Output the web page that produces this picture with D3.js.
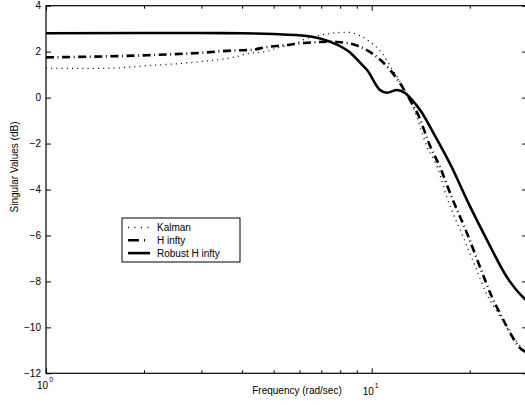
<!DOCTYPE html>
<html>
  <head>
    <meta http-equiv="Content-type" content="text/html; charset=utf-8">
    <title>Singular Values</title>
    <script src="https://d3js.org/d3.v7.min.js"></script>
    <style>
      body { margin: 0; background: #fff; }
      svg { display: block; }
      text { font-family: "Liberation Sans", Arial, Helvetica, sans-serif; font-size: 10px; fill: #000; }
    </style>
  </head>
  <body>
    <div id="chart"></div>
    <script type="text/javascript">
      // values (rad/sec, dB)
      var kalmanFreq = [1, 1.5, 2, 3, 3.75, 4.23, 4.77, 5.23, 5.8, 6.02, 6.94, 8.4, 8.7, 9.68, 10.75, 11.6, 12.65, 13.4, 14.8, 15.9, 17.0, 19.1, 21.0, 22.6, 24.4, 27.9, 30];
      var kalmanDb   = [1.27, 1.27, 1.38, 1.57, 1.75, 1.93, 2.02, 2.2, 2.33, 2.45, 2.72, 2.84, 2.82, 2.51, 1.94, 1.2, 0.33, -0.41, -2.15, -3.02, -4.33, -6.07, -7.5, -8.59, -9.37, -10.63, -11.15];

      var hinfFreq = [1, 2, 3, 3.75, 4.23, 4.77, 5.5, 6.02, 6.33, 7.61, 8.0, 9.08, 10.2, 11.4, 12.2, 13.1, 13.9, 15.1, 16.2, 17.6, 19.6, 21.5, 23.4, 25.1, 26.6, 28.5, 30];
      var hinfDb   = [1.75, 1.84, 1.95, 2.05, 2.07, 2.2, 2.29, 2.36, 2.39, 2.43, 2.41, 2.25, 1.85, 1.2, 0.64, -0.1, -0.76, -2.1, -3.02, -4.33, -5.89, -7.37, -8.68, -9.55, -10.24, -10.89, -11.1];

      var robustFreq = [1, 2, 3, 4, 5, 6.33, 7.45, 8.58, 9.21, 9.68, 10.6, 11.14, 11.96, 12.65, 13.3, 14.2, 15.4, 17.6, 19.6, 22.6, 26.0, 29.1, 30];
      var robustDb   = [2.8, 2.81, 2.81, 2.8, 2.77, 2.68, 2.43, 1.96, 1.52, 1.2, 0.33, 0.21, 0.33, 0.2, -0.1, -0.62, -1.49, -3.02, -4.45, -6.2, -7.81, -8.68, -8.85];

      var yTicks = [-12, -10, -8, -6, -4, -2, 0, 2, 4];
      var xMajor = [1, 10];
      var xMajorExp = ['0', '1'];
      var xMinor = [2, 3, 4, 5, 6, 7, 8, 9, 20, 30];
      var legendLabels = ['Kalman', 'H infty', 'Robust H infty'];

      (function(d3) {
        'use strict';

        var width = 525, height = 405;
        var plotLeft = 46, plotTop = 5.7, plotBottom = 373.3;
        var decade = 325.7;

        var x = d3.scaleLog().domain([1, 30]).range([plotLeft, plotLeft + decade * Math.log10(30)]);
        var y = d3.scaleLinear().domain([-12, 4]).range([plotBottom, plotTop]);
        var plotRight = x(30);

        var svg = d3.select('#chart').append('svg')
          .attr('width', width)
          .attr('height', height);

        function zip(f, v) {
          return f.map(function(d, i) { return [d, v[i]]; });
        }

        var series = [
          { name: legendLabels[0], data: zip(kalmanFreq, kalmanDb), width: 1.3, dash: '1,4.2', legDash: '1,5.5' },
          { name: legendLabels[1], data: zip(hinfFreq, hinfDb), width: 2.6, dash: '8,3.6,0.9,3.6', legDash: '11,5,1,5' },
          { name: legendLabels[2], data: zip(robustFreq, robustDb), width: 2.6, dash: null, legDash: null }
        ];

        var line = d3.line()
          .x(function(d) { return x(d[0]); })
          .y(function(d) { return y(d[1]); })
          .curve(d3.curveMonotoneX);

        svg.append('g').selectAll('path')
          .data(series)
          .enter()
          .append('path')
          .attr('d', function(d) { return line(d.data); })
          .attr('fill', 'none')
          .attr('stroke', '#000')
          .attr('stroke-width', function(d) { return d.width; })
          .attr('stroke-dasharray', function(d) { return d.dash; });

        // axes: ticks point inward on all four sides
        var yl = svg.append('g').attr('transform', 'translate(' + plotLeft + ',0)')
          .call(d3.axisLeft(y).tickValues(yTicks).tickSizeInner(-5).tickSizeOuter(0).tickPadding(5).tickFormat(d3.format('d')));
        var yr = svg.append('g').attr('transform', 'translate(' + plotRight + ',0)')
          .call(d3.axisRight(y).tickValues(yTicks).tickSizeInner(-5).tickSizeOuter(0).tickFormat(''));
        var xb1 = svg.append('g').attr('transform', 'translate(0,' + plotBottom + ')')
          .call(d3.axisBottom(x).tickValues(xMajor).tickSizeInner(-5).tickSizeOuter(0).tickFormat(''));
        var xb2 = svg.append('g').attr('transform', 'translate(0,' + plotBottom + ')')
          .call(d3.axisBottom(x).tickValues(xMinor).tickSizeInner(-3).tickSizeOuter(0).tickFormat(''));
        var xt1 = svg.append('g').attr('transform', 'translate(0,' + plotTop + ')')
          .call(d3.axisTop(x).tickValues(xMajor).tickSizeInner(-5).tickSizeOuter(0).tickFormat(''));
        var xt2 = svg.append('g').attr('transform', 'translate(0,' + plotTop + ')')
          .call(d3.axisTop(x).tickValues(xMinor).tickSizeInner(-3).tickSizeOuter(0).tickFormat(''));

        [yl, yr, xb1, xb2, xt1, xt2].forEach(function(g) {
          g.select('.domain').remove();
          g.selectAll('line').attr('stroke', '#000');
          g.selectAll('text').attr('fill', '#000').attr('font-size', null).attr('font-family', null);
        });

        svg.append('rect')
          .attr('x', plotLeft).attr('y', plotTop)
          .attr('width', plotRight - plotLeft).attr('height', plotBottom - plotTop)
          .attr('fill', 'none').attr('stroke', '#000').attr('stroke-width', 1.2);

        // decade labels with superscript exponent
        var labY = [389, 395];
        xMajor.forEach(function(v, i) {
          var t = svg.append('text')
            .attr('x', x(v) - 9)
            .attr('y', labY[i]);
          t.append('tspan').text('10');
          t.append('tspan')
            .attr('dx', 1).attr('dy', -7)
            .style('font-size', '7px')
            .text(xMajorExp[i]);
        });

        svg.append('text')
          .attr('x', 297).attr('y', 394)
          .attr('text-anchor', 'middle')
          .text('Frequency (rad/sec)');

        svg.append('text')
          .attr('transform', 'translate(18,167) rotate(-90)')
          .attr('text-anchor', 'middle')
          .text('Singular Values (dB)');

        // legend
        var lg = svg.append('g').attr('transform', 'translate(122,218)');
        lg.append('rect')
          .attr('width', 118).attr('height', 44)
          .attr('fill', '#fff').attr('stroke', '#000').attr('stroke-width', 1);
        var row = lg.selectAll('g.row')
          .data(series)
          .enter()
          .append('g')
          .attr('class', 'row')
          .attr('transform', function(d, i) { return 'translate(0,' + (9.5 + i * 12.8) + ')'; });
        row.append('line')
          .attr('x1', 6).attr('x2', 28)
          .attr('stroke', '#000')
          .attr('stroke-width', function(d) { return d.width; })
          .attr('stroke-dasharray', function(d) { return d.legDash; });
        row.append('text')
          .attr('x', 35).attr('y', 3.6)
          .text(function(d) { return d.name; });
      })(window.d3);
    </script>
  </body>
</html>
